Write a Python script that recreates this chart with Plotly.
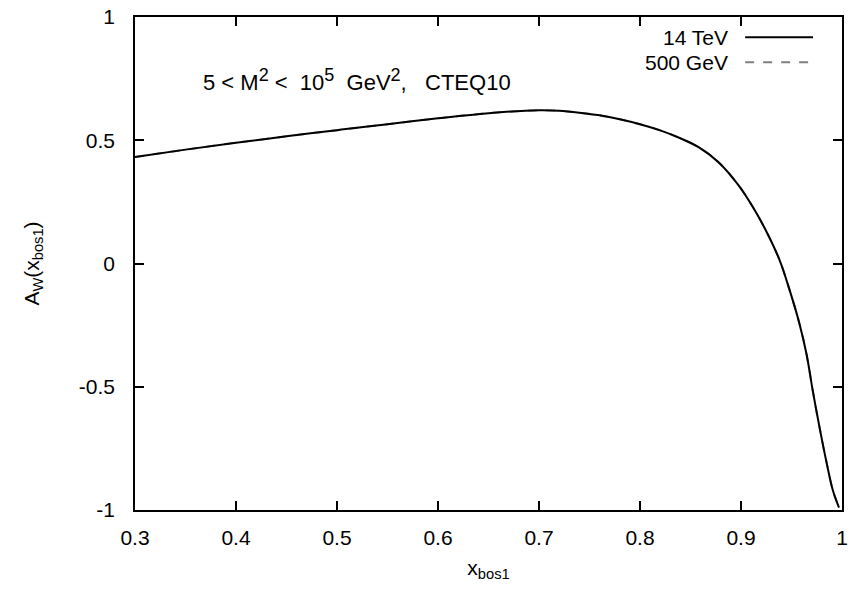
import plotly.graph_objects as go

x_bos1 = [0.30, 0.35, 0.40, 0.45, 0.50, 0.55, 0.60, 0.65, 0.70, 0.72, 0.74,
          0.76, 0.78, 0.80, 0.82, 0.84, 0.858, 0.878, 0.898, 0.911, 0.924, 0.938,
          0.948, 0.958, 0.965, 0.971, 0.978, 0.985, 0.991, 0.997]
aw_14tev = [0.432, 0.462, 0.490, 0.516, 0.541, 0.565, 0.589, 0.610, 0.622, 0.620, 0.612,
            0.601, 0.585, 0.565, 0.540, 0.508, 0.472, 0.410, 0.315, 0.234, 0.139, 0.016,
            -0.106, -0.246, -0.370, -0.515, -0.670, -0.813, -0.921, -0.990]
aw_500gev = list(aw_14tev)

y_ticks = [1, 0.5, 0, -0.5, -1]
y_ticklabels = ["1", "0.5", "0", "-0.5", "-1"]
x_ticks = [0.3, 0.4, 0.5, 0.6, 0.7, 0.8, 0.9, 1.0]
x_ticklabels = ["0.3", "0.4", "0.5", "0.6", "0.7", "0.8", "0.9", "1"]

FONT = "Liberation Sans, Arial, sans-serif"
FS = 21

fig = go.Figure()
fig.add_trace(go.Scatter(x=x_bos1, y=aw_500gev, mode="lines", name="500 GeV",
                         line=dict(color="#808080", width=2, dash="dash"),
                         line_shape="spline", showlegend=False))
fig.add_trace(go.Scatter(x=x_bos1, y=aw_14tev, mode="lines", name="14 TeV",
                         line=dict(color="black", width=2),
                         line_shape="spline", showlegend=False))

axis_common = dict(showgrid=False, zeroline=False, showline=True, linecolor="black",
                   linewidth=1.5, mirror="ticks", ticks="inside", ticklen=9,
                   tickwidth=1.5, tickcolor="black", automargin=False,
                   tickfont=dict(family=FONT, size=FS, color="black"))

fig.update_xaxes(range=[0.3, 1.0], tickvals=x_ticks, ticktext=x_ticklabels,
                 ticklabelstandoff=8,
                 title=dict(text="x<sub>bos1</sub>", font=dict(family=FONT, size=FS, color="black"),
                            standoff=12),
                 **axis_common)
fig.update_yaxes(range=[-1, 1], tickvals=y_ticks, ticktext=y_ticklabels,
                 ticklabelstandoff=14,
                 title=dict(text="A<sub>W</sub>(x<sub>bos1</sub>)",
                            font=dict(family=FONT, size=FS, color="black"), standoff=34),
                 **axis_common)

# legend (gnuplot style: text right-aligned, sample on the right)
fig.add_annotation(xref="paper", yref="paper", x=0.841, y=0.959, xanchor="right", yanchor="middle",
                   text="14 TeV", showarrow=False, font=dict(family=FONT, size=FS, color="black"))
fig.add_annotation(xref="paper", yref="paper", x=0.841, y=0.908, xanchor="right", yanchor="middle",
                   text="500 GeV", showarrow=False, font=dict(family=FONT, size=FS, color="black"))
fig.add_shape(type="line", xref="paper", yref="paper", x0=0.863, x1=0.959, y0=0.959, y1=0.959,
              line=dict(color="black", width=2))
fig.add_shape(type="line", xref="paper", yref="paper", x0=0.863, x1=0.959, y0=0.908, y1=0.908,
              line=dict(color="#808080", width=2, dash="dash"))

SUP = '<sup><span style="font-size:18px">{}</span></sup>'
label = ("5 < M" + SUP.format("2") + " <&nbsp;&nbsp;10" + SUP.format("5")
         + "&nbsp;&nbsp;GeV" + SUP.format("2") + ",&nbsp;&nbsp;&nbsp;CTEQ10")
fig.add_annotation(xref="paper", yref="paper", x=0.094, y=0.872, xanchor="left", yanchor="middle",
                   text=label, showarrow=False, font=dict(family=FONT, size=22, color="black"))

fig.update_layout(width=862, height=591, margin=dict(l=135, r=20, t=17, b=81, autoexpand=False),
                  plot_bgcolor="white", paper_bgcolor="white",
                  font=dict(family=FONT, size=FS, color="black"))

fig.write_html("out.html")
